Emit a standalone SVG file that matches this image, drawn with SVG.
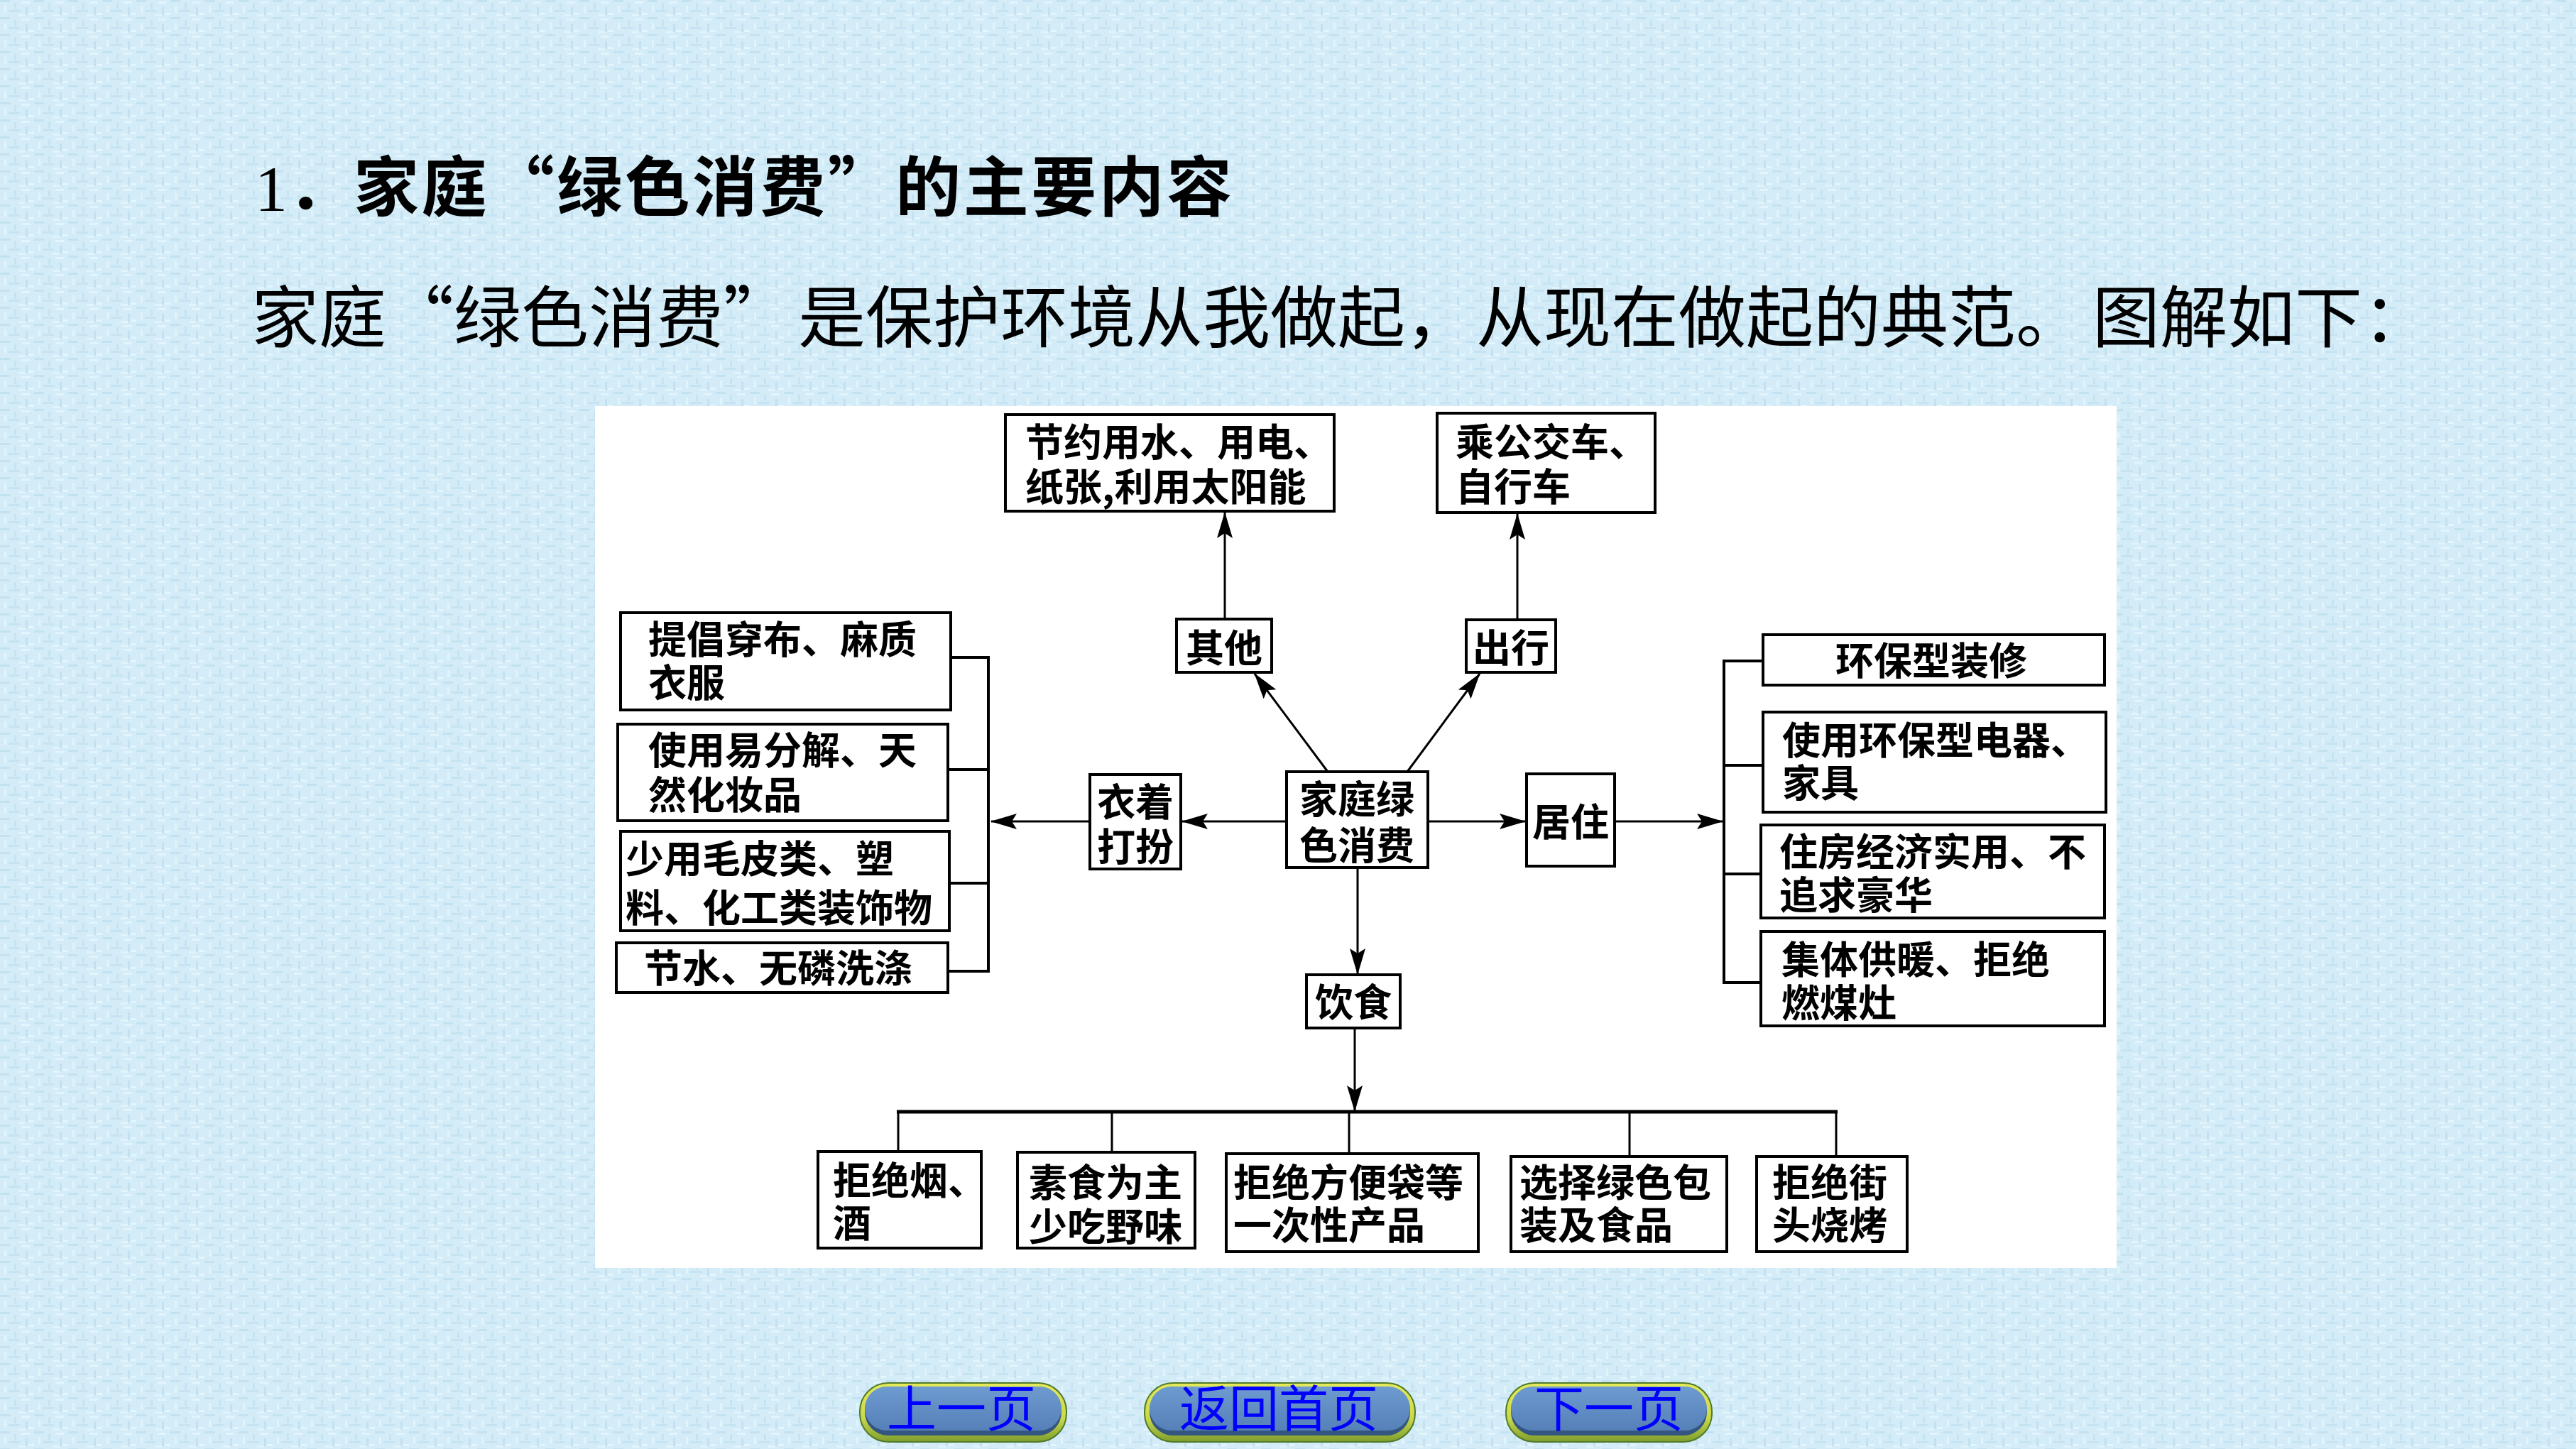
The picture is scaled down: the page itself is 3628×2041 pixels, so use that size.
<svg xmlns="http://www.w3.org/2000/svg" width="3628" height="2041" viewBox="0 0 3628 2041">
<defs>
<style>
.box{fill:#fff;stroke:#000;stroke-width:4}
.t{font-family:"Noto Sans CJK SC","Noto Sans CJK TC",sans-serif;font-size:54px;font-weight:bold;fill:#000}
.m{text-anchor:middle}
.ln{stroke:#000;stroke-width:3;fill:none}
.br{stroke:#000;stroke-width:4;fill:none}
.arr{marker-end:url(#ah)}
.btn-t{font-family:"Noto Sans CJK SC",sans-serif;font-size:70px;fill:#0000ff;text-anchor:middle}
</style>
<marker id="ah" markerUnits="userSpaceOnUse" markerWidth="38" markerHeight="22" refX="36" refY="11" orient="auto" viewBox="0 0 38 22">
<path d="M0,0 L37,11 L0,22 L7,11 Z" fill="#000"/>
</marker>
<pattern id="bgp" patternUnits="userSpaceOnUse" width="48" height="24">
<rect width="48" height="24" fill="#d3ecf7"/>
<rect x="0" y="0" width="14" height="3" fill="#c3e2f1"/>
<rect x="20" y="4" width="3" height="9" fill="#c6e3f1"/>
<rect x="30" y="2" width="12" height="3" fill="#e2f5fc"/>
<rect x="6" y="8" width="3" height="10" fill="#e0f4fb"/>
<rect x="12" y="14" width="16" height="3" fill="#c5e3f2"/>
<rect x="36" y="10" width="3" height="11" fill="#c3e1f0"/>
<rect x="40" y="18" width="8" height="3" fill="#e3f6fd"/>
<rect x="26" y="20" width="10" height="3" fill="#e1f4fb"/>
</pattern>
<linearGradient id="rim" x1="0" y1="0" x2="0" y2="1">
<stop offset="0" stop-color="#e6ea5a"/>
<stop offset="0.6" stop-color="#c9d84a"/>
<stop offset="1" stop-color="#7f9e2e"/>
</linearGradient>
<linearGradient id="blu" x1="0" y1="0" x2="0" y2="1">
<stop offset="0" stop-color="#6e9bd0"/>
<stop offset="1" stop-color="#5580b8"/>
</linearGradient>
</defs>

<rect x="0" y="0" width="3628" height="2041" fill="url(#bgp)"/>

<g id="title">
<text x="359" y="297" font-family="Noto Sans CJK SC,sans-serif" font-size="92" font-weight="bold" fill="#000"><tspan font-family="Liberation Serif,serif" font-weight="normal">1</tspan>．<tspan x="498" textLength="1237" lengthAdjust="spacing">家庭“绿色消费”的主要内容</tspan></text>
</g>
<g id="subtitle">
<text x="354" y="482" font-family="Noto Sans CJK SC,sans-serif" font-size="95" fill="#000">家庭“绿色消费”<tspan x="1124">是保护环境从我做起，</tspan><tspan x="2079">从现在做起的典范。</tspan><tspan x="2947">图解如下</tspan><tspan x="3328">：</tspan></text>
</g>

<rect id="panel" x="838" y="572" width="2143" height="1214" fill="#fff"/>

<g id="connectors">
<line class="ln arr" x1="1725" y1="872" x2="1725" y2="722"/>
<line class="ln arr" x1="2137" y1="873" x2="2137" y2="724"/>
<line class="ln arr" x1="1870" y1="1087" x2="1767" y2="949"/>
<line class="ln arr" x1="1982" y1="1087" x2="2084" y2="949"/>
<line class="ln arr" x1="1812" y1="1157" x2="1665" y2="1157"/>
<line class="ln arr" x1="1535" y1="1157" x2="1396" y2="1157"/>
<path class="br" d="M1339,926 H1392 V1368 H1335 M1335,1084 H1392 M1337,1244 H1392"/>
<line class="ln arr" x1="2011" y1="1157" x2="2148" y2="1157"/>
<line class="ln arr" x1="2274" y1="1157" x2="2426" y2="1157"/>
<path class="br" d="M2483,931 H2428 V1384 H2480 M2428,1078 H2483 M2428,1231 H2480"/>
<line class="ln arr" x1="1912" y1="1222" x2="1912" y2="1372"/>
<line class="ln arr" x1="1908" y1="1448" x2="1908" y2="1565"/>
<line x1="1263" y1="1566" x2="2588" y2="1566" stroke="#000" stroke-width="5"/>
<path class="ln" d="M1265,1566 V1622 M1566,1566 V1623 M1900,1566 V1625 M2295,1566 V1629 M2586,1566 V1629"/>
</g>

<g id="n-other-result"><rect class="box" x="1416" y="584" width="463" height="136"/>
<text class="t" x="1444" y="643">节约用水、用电、<tspan x="1444" y="706">纸张,利用太阳能</tspan></text></g>
<g id="n-travel-result"><rect class="box" x="2024" y="582" width="307" height="140"/>
<text class="t" x="2050" y="643">乘公交车、<tspan x="2050" y="706">自行车</tspan></text></g>
<g id="n-other"><rect class="box" x="1657" y="872" width="134" height="75"/>
<text class="t m" x="1724" y="933">其他</text></g>
<g id="n-travel"><rect class="box" x="2065" y="873" width="126" height="74"/>
<text class="t m" x="2128" y="933">出行</text></g>

<g id="n-c1"><rect class="box" x="874" y="863" width="465" height="137"/>
<text class="t" x="913" y="921">提倡穿布、麻质<tspan x="913" y="982">衣服</tspan></text></g>
<g id="n-c2"><rect class="box" x="870" y="1020" width="465" height="136"/>
<text class="t" x="913" y="1077">使用易分解、天<tspan x="913" y="1140">然化妆品</tspan></text></g>
<g id="n-c3"><rect class="box" x="874" y="1171" width="463" height="140"/>
<text class="t" x="881" y="1230">少用毛皮类、塑<tspan x="881" y="1299">料、化工类装饰物</tspan></text></g>
<g id="n-c4"><rect class="box" x="868" y="1328" width="467" height="70"/>
<text class="t" x="907" y="1384">节水、无磷洗涤</text></g>

<g id="n-clothing"><rect class="box" x="1535" y="1091" width="128" height="133"/>
<text class="t m" x="1599" y="1150">衣着<tspan x="1599" y="1213">打扮</tspan></text></g>
<g id="n-center"><rect class="box" x="1812" y="1087" width="199" height="135"/>
<text class="t m" x="1911" y="1146">家庭绿<tspan x="1911" y="1211">色消费</tspan></text></g>
<g id="n-living"><rect class="box" x="2150" y="1090" width="124" height="130"/>
<text class="t m" x="2212" y="1178">居住</text></g>
<g id="n-food"><rect class="box" x="1840" y="1373" width="132" height="75"/>
<text class="t m" x="1906" y="1432">饮食</text></g>

<g id="n-h1"><rect class="box" x="2483" y="894" width="481" height="71"/>
<text class="t m" x="2720" y="951">环保型装修</text></g>
<g id="n-h2"><rect class="box" x="2483" y="1003" width="483" height="141"/>
<text class="t" x="2510" y="1063">使用环保型电器、<tspan x="2510" y="1123">家具</tspan></text></g>
<g id="n-h3"><rect class="box" x="2480" y="1162" width="484" height="131"/>
<text class="t" x="2506" y="1220">住房经济实用、不<tspan x="2506" y="1281">追求豪华</tspan></text></g>
<g id="n-h4"><rect class="box" x="2480" y="1312" width="484" height="133"/>
<text class="t" x="2509" y="1372">集体供暖、拒绝<tspan x="2509" y="1433">燃煤灶</tspan></text></g>

<g id="n-f1"><rect class="box" x="1152" y="1622" width="230" height="136"/>
<text class="t" x="1173" y="1683">拒绝烟、<tspan x="1173" y="1743">酒</tspan></text></g>
<g id="n-f2"><rect class="box" x="1433" y="1623" width="250" height="135"/>
<text class="t" x="1449" y="1686">素食为主<tspan x="1449" y="1748">少吃野味</tspan></text></g>
<g id="n-f3"><rect class="box" x="1727" y="1625" width="355" height="138"/>
<text class="t" x="1737" y="1686">拒绝方便袋等<tspan x="1737" y="1746">一次性产品</tspan></text></g>
<g id="n-f4"><rect class="box" x="2128" y="1629" width="304" height="134"/>
<text class="t" x="2140" y="1686">选择绿色包<tspan x="2140" y="1746">装及食品</tspan></text></g>
<g id="n-f5"><rect class="box" x="2474" y="1629" width="212" height="134"/>
<text class="t" x="2496" y="1686">拒绝街<tspan x="2496" y="1746">头烧烤</tspan></text></g>

<g id="btn-prev">
<rect x="1211" y="1948" width="291" height="83" rx="40" fill="url(#rim)" stroke="#4f7a2a" stroke-width="2"/>
<rect x="1218" y="1954" width="277" height="68" rx="33" fill="#33557f"/>
<rect x="1218" y="1953" width="277" height="62" rx="31" fill="url(#blu)"/>
<text class="btn-t" x="1354" y="2010">上一页</text>
</g>
<g id="btn-home">
<rect x="1612" y="1948" width="381" height="83" rx="40" fill="url(#rim)" stroke="#4f7a2a" stroke-width="2"/>
<rect x="1619" y="1954" width="367" height="68" rx="33" fill="#33557f"/>
<rect x="1619" y="1953" width="367" height="62" rx="31" fill="url(#blu)"/>
<text class="btn-t" x="1801" y="2010">返回首页</text>
</g>
<g id="btn-next">
<rect x="2121" y="1948" width="290" height="83" rx="40" fill="url(#rim)" stroke="#4f7a2a" stroke-width="2"/>
<rect x="2128" y="1954" width="276" height="68" rx="33" fill="#33557f"/>
<rect x="2128" y="1953" width="276" height="62" rx="31" fill="url(#blu)"/>
<text class="btn-t" x="2266" y="2010">下一页</text>
</g>
</svg>
